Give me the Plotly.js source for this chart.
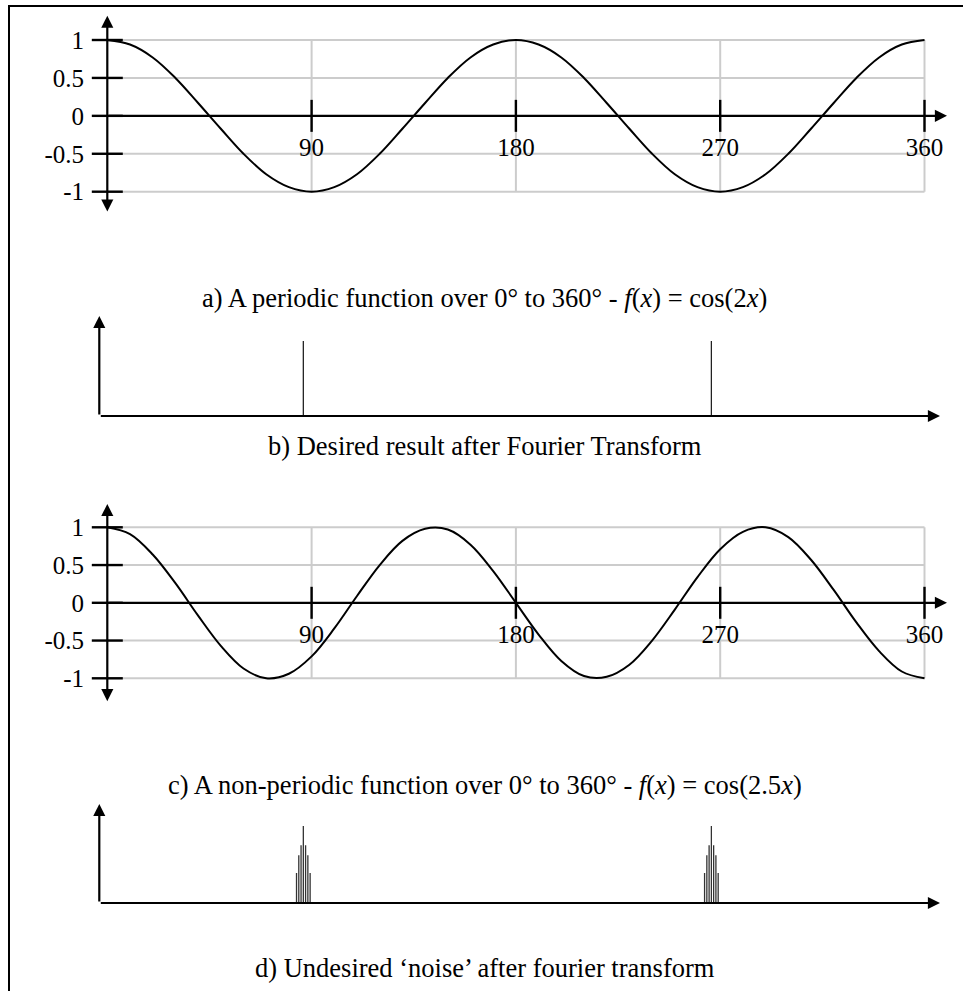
<!DOCTYPE html>
<html>
<head>
<meta charset="utf-8">
<script src="https://cdn.plot.ly/plotly-3.0.1.min.js"></script>
<style>
  html, body { margin: 0; padding: 0; background: #fff; }
  #chart { width: 969px; height: 991px; }
</style>
</head>
<body>
<div id="chart"></div>
<script>
// ---- data ---------------------------------------------------------------
// sample angles in degrees
const angles = [0, 10, 20, 30, 40, 50, 60, 70, 80, 90, 100, 110, 120, 130, 140, 150, 160, 170, 180,
                190, 200, 210, 220, 230, 240, 250, 260, 270, 280, 290, 300, 310, 320, 330, 340, 350, 360];
// f(x) = cos(2x)
const periodicValues = [1, 0.94, 0.77, 0.5, 0.17, -0.17, -0.5, -0.77, -0.94, -1, -0.94, -0.77, -0.5, -0.17, 0.17, 0.5, 0.77, 0.94, 1,
                        0.94, 0.77, 0.5, 0.17, -0.17, -0.5, -0.77, -0.94, -1, -0.94, -0.77, -0.5, -0.17, 0.17, 0.5, 0.77, 0.94, 1];
// f(x) = cos(2.5x)
const nonPeriodicValues = [1, 0.91, 0.64, 0.26, -0.17, -0.57, -0.87, -1, -0.94, -0.71, -0.34, 0.09, 0.5, 0.82, 0.98, 0.97, 0.77, 0.42, 0,
                           -0.42, -0.77, -0.97, -0.98, -0.82, -0.5, -0.09, 0.34, 0.71, 0.94, 1, 0.87, 0.57, 0.17, -0.26, -0.64, -0.91, -1];

const angleTicks = [90, 180, 270, 360];
const angleTickText = ['90', '180', '270', '360'];
const levelTicks = [-1, -0.5, 0, 0.5, 1];
const levelTickText = ['-1', '-0.5', '0', '0.5', '1'];
const gridLevels = [-1, -0.5, 0.5, 1];

// spectra
const idealBins = [90, 270];
const idealMagnitudes = [1, 1];
const leakBins = [87, 88, 89, 90, 91, 92, 93, 267, 268, 269, 270, 271, 272, 273];
const leakMagnitudes = [0.39, 0.62, 0.75, 1, 0.75, 0.62, 0.39, 0.39, 0.62, 0.75, 1, 0.75, 0.62, 0.39];

const captions = [
  'a) A periodic function over 0° to 360° - <i>f</i>(<i>x</i>) = cos(2<i>x</i>)',
  'b) Desired result after Fourier Transform',
  'c) A non-periodic function over 0° to 360° - <i>f</i>(<i>x</i>) = cos(2.5<i>x</i>)',
  'd) Undesired ‘noise’ after fourier transform'
];

// ---- geometry helpers (page pixels -> paper / data) ----------------------
const W = 969, H = 991;
const px = p => p / W;
const py = p => 1 - p / H;

function mapX(pLo, pHi, p0, p1, v0, v1) {
  const k = (v1 - v0) / (p1 - p0);
  const at = p => v0 + (p - p0) * k;
  return { domain: [px(pLo), px(pHi)], range: [at(pLo), at(pHi)], at, perPx: Math.abs(k) };
}
function mapY(pTop, pBot, p0, p1, v0, v1) {
  const k = (v1 - v0) / (p1 - p0);
  const at = p => v0 + (p - p0) * k;
  return { domain: [py(pBot), py(pTop)], range: [at(pBot), at(pTop)], at, perPx: Math.abs(k) };
}

const xWave = mapX(86, 962, 107.3, 924.5, 0, 360);
const yA = mapY(8, 224, 40, 191.7, 1, -1);
const yC = mapY(494, 714, 527.3, 678.3, 1, -1);
const xSpec = mapX(90, 962, 99.3, 915.4, 0, 360);
const yB = mapY(305, 428, 416, 341, 0, 1);
const yD = mapY(792, 915, 903, 826, 0, 1);

const FONT = 'Liberation Serif, Times New Roman, serif';
const BLACK = '#000';
const GRID = '#cccccc';

// ---- builders --------------------------------------------------------------
function stems(xs, hs, xa, ya, color, width) {
  const x = [], y = [];
  xs.forEach((v, i) => { x.push(v, v, null); y.push(0, hs[i], null); });
  return { type: 'scatter', mode: 'lines', x, y, xaxis: xa, yaxis: ya,
           line: { color, width }, hoverinfo: 'skip', showlegend: false };
}

function tickCrosses(xm, ym, xa, ya) {
  const x = [], y = [];
  const hy = 16 * ym.perPx;      // half height of the ticks on the angle axis
  const hx = 15.5 * xm.perPx;    // half width of the ticks on the level axis
  angleTicks.forEach(t => { x.push(t, t, null); y.push(-hy, hy, null); });
  levelTicks.forEach(t => { x.push(-hx, hx, null); y.push(t, t, null); });
  return { type: 'scatter', mode: 'lines', x, y, xaxis: xa, yaxis: ya,
           line: { color: BLACK, width: 2.4 }, hoverinfo: 'skip', showlegend: false };
}

function waveCurve(values, xa, ya) {
  return { type: 'scatter', mode: 'lines', x: angles, y: values, xaxis: xa, yaxis: ya,
           line: { color: BLACK, width: 2, shape: 'spline', smoothing: 1 },
           hoverinfo: 'skip', showlegend: false };
}

function gridShapes(xr, yr) {
  const s = [];
  angleTicks.forEach(t => s.push({ type: 'line', xref: xr, yref: yr, x0: t, x1: t, y0: -1, y1: 1,
                                   layer: 'below', line: { color: GRID, width: 2 } }));
  gridLevels.forEach(t => s.push({ type: 'line', xref: xr, yref: yr, x0: 0, x1: 360, y0: t, y1: t,
                                   layer: 'below', line: { color: GRID, width: 2 } }));
  return s;
}

function arrow(xr, yr, x, y, ax, ay, both) {
  const a = { xref: xr, yref: yr, axref: xr, ayref: yr, x, y, ax, ay, text: '',
              showarrow: true, arrowhead: 2, arrowsize: 1.1, arrowwidth: 2.2,
              arrowcolor: BLACK, font: { size: 1 }, standoff: 0, startstandoff: 0 };
  if (both) { a.arrowside = 'end+start'; a.startarrowhead = 2; a.startarrowsize = 1.1; }
  return a;
}

function waveXAxis(xm, zeroPx) {
  return { domain: xm.domain, range: xm.range, anchor: 'free', position: py(zeroPx),
           showgrid: false, zeroline: false, showline: false, ticks: '',
           tickmode: 'array', tickvals: angleTicks, ticktext: angleTickText,
           tickfont: { family: FONT, size: 25, color: BLACK }, ticklabelstandoff: 14,
           fixedrange: true };
}
function waveYAxis(ym, xa) {
  return { domain: ym.domain, range: ym.range, anchor: xa,
           showgrid: false, zeroline: false, showline: false, ticks: '',
           tickmode: 'array', tickvals: levelTicks, ticktext: levelTickText,
           tickfont: { family: FONT, size: 25, color: BLACK }, ticklabelstandoff: 1,
           fixedrange: true };
}
function bareAxis(m, anchor) {
  return { domain: m.domain, range: m.range, anchor, showgrid: false, zeroline: false,
           showline: false, showticklabels: false, ticks: '', fixedrange: true };
}

// ---- traces ----------------------------------------------------------------
const data = [
  tickCrosses(xWave, yA, 'x', 'y'),
  waveCurve(periodicValues, 'x', 'y'),
  stems(idealBins, idealMagnitudes, 'x2', 'y2', '#222', 1.3),
  tickCrosses(xWave, yC, 'x3', 'y3'),
  waveCurve(nonPeriodicValues, 'x3', 'y3'),
  stems(leakBins, leakMagnitudes, 'x4', 'y4', '#333', 1.3)
];

// ---- annotations: axis arrows and captions ----------------------------------
const annotations = [
  arrow('x', 'y', xWave.at(947), 0, 0, 0, false),
  arrow('x', 'y', 0, yA.at(15.7), 0, yA.at(213), true),
  arrow('x2', 'y2', xSpec.at(940), 0, 0, 0, false),
  arrow('x2', 'y2', 0, yB.at(316), 0, 0, false),
  arrow('x3', 'y3', xWave.at(947), 0, 0, 0, false),
  arrow('x3', 'y3', 0, yC.at(504), 0, yC.at(702.7), true),
  arrow('x4', 'y4', xSpec.at(940), 0, 0, 0, false),
  arrow('x4', 'y4', 0, yD.at(804), 0, 0, false)
];
const captionRows = [298, 446, 785, 968];
captions.forEach((t, i) => annotations.push({
  xref: 'paper', yref: 'paper', x: px(485), y: py(captionRows[i]),
  xanchor: 'center', yanchor: 'middle', showarrow: false, text: t,
  font: { family: FONT, size: 26.5, color: BLACK }
}));

// ---- page frame -----------------------------------------------------------------
const shapes = [
  ...gridShapes('x', 'y'),
  ...gridShapes('x3', 'y3'),
  { type: 'path', xref: 'paper', yref: 'paper', layer: 'above',
    path: `M ${px(9)} ${py(H + 5)} L ${px(9)} ${py(6)} L ${px(963)} ${py(6)}`,
    line: { color: BLACK, width: 2 } }
];

const layout = {
  width: W, height: H,
  margin: { l: 0, r: 0, t: 0, b: 0, pad: 0 },
  paper_bgcolor: '#fff', plot_bgcolor: 'rgba(0,0,0,0)',
  showlegend: false,
  xaxis: waveXAxis(xWave, 116),
  yaxis: waveYAxis(yA, 'x'),
  xaxis2: bareAxis(xSpec, 'y2'),
  yaxis2: bareAxis(yB, 'x2'),
  xaxis3: waveXAxis(xWave, 603.3),
  yaxis3: waveYAxis(yC, 'x3'),
  xaxis4: bareAxis(xSpec, 'y4'),
  yaxis4: bareAxis(yD, 'x4'),
  annotations, shapes
};

Plotly.newPlot('chart', data, layout, { staticPlot: true, displayModeBar: false });
</script>
</body>
</html>
